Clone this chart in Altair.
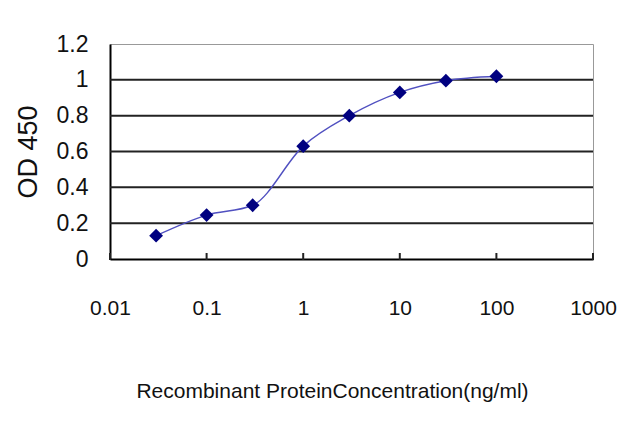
import altair as alt
import pandas as pd

# values
conc = [0.03, 0.1, 0.3, 1, 3, 10, 30, 100]
od450 = [0.13, 0.245, 0.30, 0.63, 0.80, 0.93, 0.995, 1.02]

x_ticks = [0.01, 0.1, 1, 10, 100, 1000]
y_ticks = [0, 0.2, 0.4, 0.6, 0.8, 1, 1.2]
grid_lines = [0.2, 0.4, 0.6, 0.8, 1.0]

width = 483
height = 215
font = "Liberation Sans, Arial"

df = pd.DataFrame({"conc": conc, "od": od450})

x_scale = alt.Scale(type="log", domain=[0.01, 1000], nice=False)
y_scale = alt.Scale(domain=[0, 1.2], nice=False)

x_axis = alt.Axis(values=x_ticks, format="~g", grid=False,
                  title="Recombinant ProteinConcentration(ng/ml)",
                  domainColor="black", domainWidth=2, ticks=False,
                  labelFont=font, labelFontSize=21, labelColor="#111",
                  labelBaseline="alphabetic", labelPadding=55,
                  labelFlush=False,
                  titleFont=font, titleFontSize=21, titleFontWeight="normal",
                  titleColor="#111", titleX=222, titleY=138,
                  titleBaseline="alphabetic", titleAlign="center")
y_axis = alt.Axis(values=y_ticks, format="~g", grid=False,
                  title="OD 450",
                  domainColor="black", domainWidth=2, ticks=False,
                  labelFont=font, labelFontSize=23, labelColor="#111",
                  labelPadding=22, labelFlush=False,
                  titleFont=font, titleFontSize=27,
                  titleFontWeight="normal", titleColor="#111",
                  titleX=-82, titleY=height / 2, titleAngle=-90,
                  titleBaseline="middle", titleAlign="center")

grid = alt.Chart(pd.DataFrame({"od": grid_lines})).mark_rule(
    color="#222", strokeWidth=2
).encode(
    y=alt.Y("od:Q", scale=y_scale, axis=y_axis)
)

ticks = alt.Chart(pd.DataFrame({"conc": x_ticks})).mark_rule(
    color="#222", strokeWidth=2
).encode(
    x=alt.X("conc:Q", scale=x_scale, axis=x_axis),
    y=alt.value(height - 6),
    y2=alt.value(height + 1)
)

base = alt.Chart(df).encode(
    x=alt.X("conc:Q", scale=x_scale, axis=x_axis),
    y=alt.Y("od:Q", scale=y_scale, axis=y_axis)
)

line = base.mark_line(interpolate="monotone", color="#5050c0", strokeWidth=1.4)
points = base.mark_point(shape="diamond", filled=True, color="#000080",
                         size=190, opacity=1)

chart = alt.layer(grid, ticks, line, points).properties(
    width=width,
    height=height,
    autosize=alt.AutoSizeParams(type="none"),
    padding={"left": 102, "top": 36, "right": 35, "bottom": 150},
    background="white"
).configure_view(
    stroke="#999",
    strokeWidth=1
)

chart.save("out.html", embed_options={"renderer": "svg", "actions": False})
